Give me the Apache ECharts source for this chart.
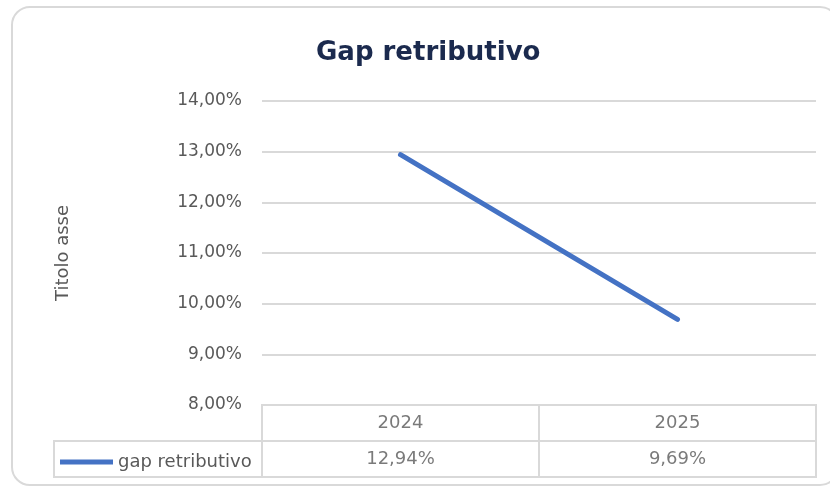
<!DOCTYPE html>
<html>
<head>
<meta charset="utf-8">
<script src="https://cdn.jsdelivr.net/npm/echarts@6/dist/echarts.min.js"></script>
<style>
  html, body { margin: 0; padding: 0; background: #ffffff; }
  #chart { width: 830px; height: 487px; }
</style>
</head>
<body>
<div id="chart"></div>
<script>
const chartTitle = 'Gap retributivo';
const seriesName = 'gap retributivo';
const axisTitle = 'Titolo asse';
const categories = ['2024', '2025'];
const gapValues = [12.94, 9.69];
const yMin = 8, yMax = 14, yStep = 1;

const FONT = 'DejaVu Sans';
const TXT = '#595959';
const GRID = '#d9d9d9';

function pct(v) { return v.toFixed(2).replace('.', ',') + '%'; }

const yearCells = categories.map((c, i) => ({ value: [i, 'year'], text: c }));
const valueCells = gapValues.map((v, i) => ({ value: [i, 'value'], text: pct(v) }));

const chart = echarts.init(document.getElementById('chart'), null, { renderer: 'canvas' });
chart.setOption({
  animation: false,
  backgroundColor: '#ffffff',
  title: {
    text: chartTitle,
    left: 311,
    top: 35,
    textStyle: { fontFamily: FONT, fontSize: 26, fontWeight: 'bold', color: '#1b2a4e' }
  },
  legend: {
    data: [seriesName],
    left: 55,
    top: 448,
    icon: 'rect',
    itemWidth: 53,
    itemHeight: 5,
    textStyle: { fontFamily: FONT, fontSize: 18, color: TXT }
  },
  graphic: [
    { type: 'rect', shape: { x: 12, y: 7, width: 826, height: 478, r: 18 },
      style: { fill: 'none', stroke: GRID, lineWidth: 2 }, silent: true, z: -1 },
    { type: 'rect', shape: { x: 54, y: 441, width: 208, height: 36 },
      style: { fill: 'none', stroke: GRID, lineWidth: 2 }, silent: true }
  ],
  grid: [
    { left: 262, right: 14, top: 101, height: 304 },
    { left: 262, right: 14, top: 405, height: 72, show: true, borderColor: GRID, borderWidth: 2 }
  ],
  xAxis: [
    { type: 'category', gridIndex: 0, data: categories, boundaryGap: true,
      axisLabel: { show: false }, axisTick: { show: false }, axisLine: { show: false }, splitLine: { show: false } },
    { type: 'category', gridIndex: 1, data: categories, boundaryGap: true,
      axisLabel: { show: false }, axisTick: { show: false }, axisLine: { show: false },
      splitLine: { show: true, interval: 0, lineStyle: { color: GRID, width: 2 } } }
  ],
  yAxis: [
    { type: 'value', gridIndex: 0, min: yMin, max: yMax, interval: yStep,
      name: axisTitle, nameLocation: 'middle', nameGap: 190, nameRotate: 90,
      nameTextStyle: { fontFamily: FONT, fontSize: 18, color: TXT },
      axisLabel: { formatter: pct, margin: 20, fontFamily: FONT, fontSize: 17, color: TXT },
      axisLine: { show: false }, axisTick: { show: false },
      splitLine: { show: true, lineStyle: { color: GRID, width: 2 } } },
    { type: 'category', gridIndex: 1, data: ['value', 'year'], boundaryGap: true,
      axisLabel: { show: false }, axisTick: { show: false }, axisLine: { show: false },
      splitLine: { show: true, interval: 0, lineStyle: { color: GRID, width: 2 } } }
  ],
  series: [
    { name: seriesName, type: 'line', xAxisIndex: 0, yAxisIndex: 0, data: gapValues,
      showSymbol: false, symbol: 'none', color: '#4472c4',
      lineStyle: { color: '#4472c4', width: 5, cap: 'round' } },
    { name: 'table', type: 'scatter', xAxisIndex: 1, yAxisIndex: 1, symbolSize: 0,
      data: yearCells.concat(valueCells), silent: true,
      label: { show: true, position: 'inside', formatter: p => p.data.text,
        fontFamily: FONT, fontSize: 18, color: TXT } }
  ]
});
</script>
</body>
</html>
